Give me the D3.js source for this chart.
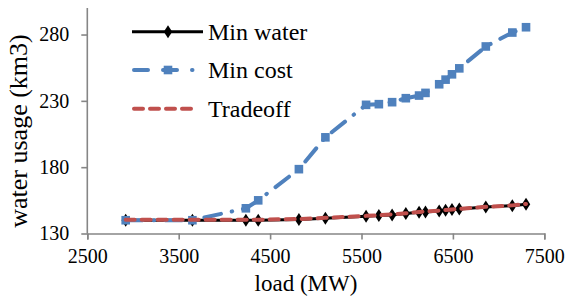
<!DOCTYPE html>
<html>
<head>
<meta charset="utf-8">
<style>
  body { margin: 0; background: #fff; }
  svg { display: block; font-family: "Liberation Serif", "Times New Roman", serif; }
</style>
</head>
<body>
<svg width="568" height="297"></svg>
<script src="https://cdn.jsdelivr.net/npm/d3@7/dist/d3.min.js"></script>
<script>
var loads = [2920, 3650, 4235, 4370, 4815, 5105, 5550, 5690, 5835, 5985, 6130, 6200, 6350, 6420, 6490, 6570, 6860, 7150, 7300];
var minWater = [140, 140, 140, 140, 140.5, 141.5, 143, 143.5, 144, 145, 146, 146.3, 147, 147.5, 148, 148.5, 150, 151, 152];
var minCost = [140, 140, 149, 155, 178.5, 202.5, 227, 227.5, 229, 232, 234, 236, 242.5, 246, 250, 254.5, 271, 281.5, 285.5];
var tradeoff = [140.3, 140.3, 140.3, 140.4, 140.9, 141.8, 143.3, 143.8, 144.4, 145.3, 146.2, 146.6, 147.2, 147.7, 148.1, 148.6, 150.1, 151.2, 152.3];
var xTicks = [2500, 3500, 4500, 5500, 6500, 7500];
var yTicks = [130, 180, 230, 280];
var seriesNames = ["Min water", "Min cost", "Tradeoff"];

var svg = d3.select("svg");
var x = d3.scaleLinear().domain([2500, 7500]).range([87.3, 544.3]);
var y = d3.scaleLinear().domain([130, 300]).range([233.5, 8]);
var axisColor = "#868686";

// axes
var gx = svg.append("g").attr("transform", "translate(0," + y(130) + ")")
    .call(d3.axisBottom(x).tickValues(xTicks).tickSize(6).tickPadding(9).tickFormat(d3.format("d")));
var gy = svg.append("g").attr("transform", "translate(" + x(2500) + ",0)")
    .call(d3.axisLeft(y).tickValues(yTicks).tickSize(6).tickPadding(12).tickFormat(d3.format("d")));
[gx, gy].forEach(function(g) {
  g.select(".domain").attr("stroke", axisColor).attr("stroke-width", 1.6);
  g.selectAll(".tick line").attr("stroke", axisColor).attr("stroke-width", 1.6);
  g.selectAll(".tick text").attr("fill", "#000").style("font-size", "20px")
    .style("font-family", "'Liberation Serif', 'Times New Roman', serif");
});
gy.select(".domain").attr("d", "M0," + y(300) + "V" + y(130));

var pts = function(vals) { return loads.map(function(l, i) { return [l, vals[i]]; }); };
var line = d3.line().x(function(d) { return x(d[0]); }).y(function(d) { return y(d[1]); });

var diamond = "M0,-6.5L4.2,0L0,6.5L-4.2,0Z";

// min water
svg.append("path").datum(pts(minWater)).attr("d", line).attr("fill", "none")
  .attr("stroke", "#000").attr("stroke-width", 3).attr("stroke-linejoin", "round");
svg.append("g").selectAll("path").data(pts(minWater)).join("path")
  .attr("d", diamond).attr("fill", "#000")
  .attr("transform", function(d) { return "translate(" + x(d[0]) + "," + y(d[1]) + ")"; });

// min cost
svg.append("path").datum(pts(minCost)).attr("d", line).attr("fill", "none")
  .attr("stroke", "#4F81BD").attr("stroke-width", 4).attr("stroke-linecap", "round")
  .attr("stroke-dasharray", "17,11,0.5,11");
svg.append("g").selectAll("rect").data(pts(minCost)).join("rect")
  .attr("x", function(d) { return x(d[0]) - 4.3; }).attr("y", function(d) { return y(d[1]) - 4.3; })
  .attr("width", 8.6).attr("height", 8.6).attr("fill", "#4F81BD");

// tradeoff
svg.append("path").datum(pts(tradeoff)).attr("d", line).attr("fill", "none")
  .attr("stroke", "#C0504D").attr("stroke-width", 4).attr("stroke-linecap", "round")
  .attr("stroke-dasharray", "9,7");

// legend
var leg = svg.append("g");
var ly = [31.7, 70, 108.7];
leg.append("line").attr("x1", 132).attr("x2", 203).attr("y1", ly[0]).attr("y2", ly[0])
  .attr("stroke", "#000").attr("stroke-width", 3);
leg.append("path").attr("d", diamond).attr("fill", "#000").attr("transform", "translate(168," + ly[0] + ")");
leg.append("line").attr("x1", 134).attr("x2", 202).attr("y1", ly[1]).attr("y2", ly[1])
  .attr("stroke", "#4F81BD").attr("stroke-width", 4).attr("stroke-linecap", "round")
  .attr("stroke-dasharray", "14,15,14,15,0.5,20");
leg.append("rect").attr("x", 163.7).attr("y", ly[1] - 4.3).attr("width", 8.6).attr("height", 8.6).attr("fill", "#4F81BD");
leg.append("line").attr("x1", 134).attr("x2", 196).attr("y1", ly[2]).attr("y2", ly[2])
  .attr("stroke", "#C0504D").attr("stroke-width", 4).attr("stroke-linecap", "round")
  .attr("stroke-dasharray", "9,7");
leg.selectAll("text").data(seriesNames).join("text")
  .attr("x", 208).attr("y", function(d, i) { return ly[i] + 8; })
  .style("font-size", "24px").text(function(d) { return d; });

// axis titles
svg.append("text").attr("x", 306).attr("y", 291).attr("text-anchor", "middle")
  .style("font-size", "23px").text("load (MW)");
svg.append("text").attr("transform", "translate(27,131) rotate(-90)").attr("text-anchor", "middle")
  .style("font-size", "26px").text("water usage (km3)");
</script>
</body>
</html>
